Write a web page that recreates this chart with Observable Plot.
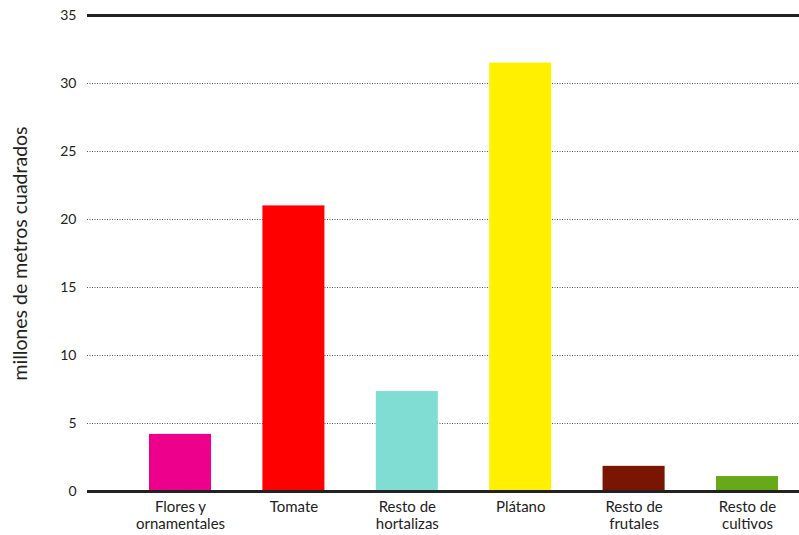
<!DOCTYPE html>
<html>
<head>
<meta charset="utf-8">
<script src="https://cdn.jsdelivr.net/npm/d3@7"></script>
<script src="https://cdn.jsdelivr.net/npm/@observablehq/plot@0.6"></script>
<style>
  html, body { margin: 0; padding: 0; background: #fff; }
  #chart svg { display: block; }
</style>
</head>
<body>
<div id="chart"></div>
<script>
const categories = ["Flores y ornamentales", "Tomate", "Resto de hortalizas", "Plátano", "Resto de frutales", "Resto de cultivos"];
const tickLabels = ["Flores y\nornamentales", "Tomate", "Resto de\nhortalizas", "Plátano", "Resto de\nfrutales", "Resto de\ncultivos"];
const values = [4.2, 21.0, 7.35, 31.5, 1.85, 1.1];
const colors = ["#EC008C", "#FF0000", "#7FDDD4", "#FFF000", "#7A1500", "#66AA1A"];
const yTicks = [0, 5, 10, 15, 20, 25, 30, 35];
const gridTicks = [5, 10, 15, 20, 25, 30];

const data = categories.map((c, i) => ({category: c, value: values[i], color: colors[i]}));
const labelOf = new Map(categories.map((c, i) => [c, tickLabels[i]]));

const chart = Plot.plot({
  width: 799,
  height: 535,
  marginTop: 15,
  marginBottom: 44,
  marginLeft: 87,
  marginRight: 0,
  style: {fontFamily: "Lato, 'Open Sans', sans-serif", color: "#222", background: "#fff"},
  x: {domain: categories, padding: 0.453, paddingOuter: 0.366, align: 0.747, round: false, label: null},
  y: {domain: [0, 35], label: null},
  marks: [
    Plot.ruleY(gridTicks, {stroke: "#555", strokeWidth: 1, strokeDasharray: "1,1.5"}),
    Plot.barY(data, {x: "category", y: "value", fill: "color"}),
    Plot.ruleY([0, 35], {stroke: "#222", strokeWidth: 3}),
    Plot.axisY({ticks: yTicks, tickSize: 0, tickPadding: 11, fontSize: 14, label: null}),
    Plot.axisX({tickSize: 0, tickPadding: 9, fontSize: 15, lineHeight: 1.1, tickFormat: d => labelOf.get(d), label: null}),
    Plot.text(["millones de metros cuadrados"], {
      frameAnchor: "left", textAnchor: "middle", dx: -67, rotate: -90, fontSize: 19.5, fill: "#222"
    })
  ]
});
document.getElementById("chart").append(chart);
</script>
</body>
</html>
